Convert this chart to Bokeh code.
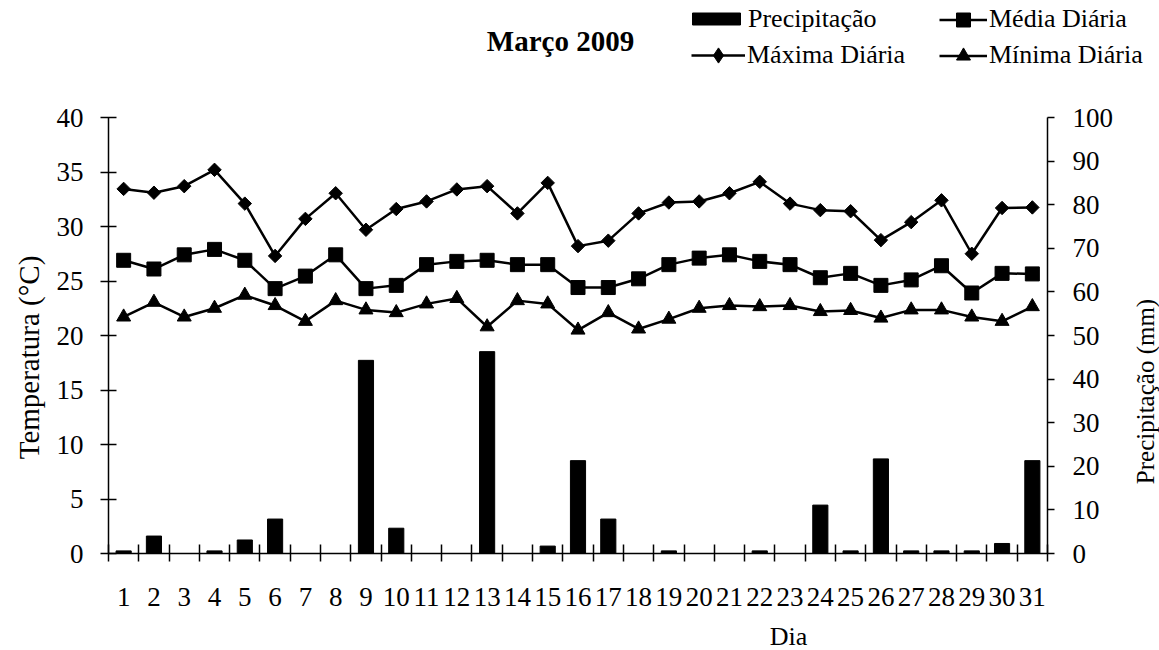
from math import pi
import numpy as np
from bokeh.plotting import figure
from bokeh.models import (Range1d, LinearAxis, FixedTicker, Legend, LegendItem, Label)
from bokeh.embed import file_html
from bokeh.resources import INLINE

dias = list(range(1, 32))
precipitacao = [0.6, 4.0, 0, 0.6, 3.1, 7.9, 0, 0, 44.3, 5.8, 0, 0, 46.3, 0, 1.7, 21.3,
                7.9, 0, 0.6, 0, 0, 0.6, 0, 11.1, 0.6, 21.7, 0.6, 0.6, 0.6, 2.3, 21.3]
maxima = [33.45, 33.1, 33.7, 35.2, 32.1, 27.3, 30.7, 33.05, 29.7, 31.6, 32.3, 33.4, 33.7,
          31.2, 34.0, 28.2, 28.7, 31.2, 32.2, 32.3, 33.05, 34.1, 32.1, 31.5, 31.4, 28.75,
          30.4, 32.4, 27.5, 31.7, 31.75]
media = [26.9, 26.1, 27.4, 27.9, 26.9, 24.3, 25.45, 27.4, 24.3, 24.6, 26.5, 26.8, 26.9,
         26.5, 26.5, 24.4, 24.4, 25.2, 26.5, 27.1, 27.4, 26.8, 26.5, 25.3, 25.7, 24.6,
         25.1, 26.4, 23.9, 25.7, 25.65]
minima = [21.7, 23.05, 21.7, 22.5, 23.7, 22.75, 21.3, 23.2, 22.35, 22.1, 22.9, 23.4, 20.8,
          23.2, 22.9, 20.5, 22.1, 20.6, 21.5, 22.5, 22.75, 22.65, 22.75, 22.2, 22.3, 21.6,
          22.35, 22.35, 21.7, 21.3, 22.65]
temp_ticks = [0, 5, 10, 15, 20, 25, 30, 35, 40]
precip_ticks = [0, 10, 20, 30, 40, 50, 60, 70, 80, 90, 100]
dia_labels = [str(d) for d in dias]

FONT = "Liberation Serif"
TICK_SIZE = "27px"

W, H = 1159, 650
# plot area in pixels (left, right, top, bottom)
PL, PR, PT, PB = 108, 1047, 117, 553
X0, X1 = dias[0] - 0.5, dias[-1] + 0.5
T0, T1 = temp_ticks[0], temp_ticks[-1]
P0, P1 = precip_ticks[0], precip_ticks[-1]
kx = (X1 - X0) / (PR - PL)
ky = (T1 - T0) / (PB - PT)
x_range = Range1d(X0 - PL * kx, X1 + (W - PR) * kx)
y_range = Range1d(T0 - (H - PB) * ky, T1 + PT * ky)
ratio = (P1 - P0) / (T1 - T0)
prec_range = Range1d(y_range.start * ratio, y_range.end * ratio)

def xd(px):
    return X0 + (px - PL) * kx

def yd(py):
    return T0 + (PB - py) * ky

p = figure(width=W, height=H, output_backend="svg", toolbar_location=None,
           x_range=x_range, y_range=y_range,
           x_axis_location=None, y_axis_location=None,
           min_border=0, min_border_left=0, min_border_right=0,
           min_border_top=0, min_border_bottom=0)
p.extra_y_ranges = {"prec": prec_range}
p.grid.visible = False
p.outline_line_color = None
p.background_fill_color = "white"
p.border_fill_color = "white"

boundaries = [d - 0.5 for d in dias] + [dias[-1] + 0.5]
xaxis = LinearAxis(ticker=FixedTicker(ticks=dias, minor_ticks=boundaries),
                   fixed_location=T0, bounds=(X0, X1),
                   major_label_overrides={d: s for d, s in zip(dias, dia_labels)},
                   major_tick_in=0, major_tick_out=0, major_tick_line_color=None,
                   minor_tick_in=9, minor_tick_out=8, minor_tick_line_color="black",
                   minor_tick_line_width=1.5, axis_line_width=1.5, axis_line_color="black",
                   major_label_standoff=26, major_label_text_font=FONT,
                   major_label_text_font_size=TICK_SIZE, major_label_text_color="black")
p.add_layout(xaxis, "below")

yaxis = LinearAxis(ticker=FixedTicker(ticks=temp_ticks, minor_ticks=[]),
                   fixed_location=X0, bounds=(T0, T1),
                   major_tick_in=8, major_tick_out=8, major_tick_line_width=1.5,
                   minor_tick_line_color=None, axis_line_width=1.5,
                   major_label_standoff=17, major_label_text_font=FONT,
                   major_label_text_font_size=TICK_SIZE, major_label_text_color="black")
p.add_layout(yaxis, "left")

yaxis2 = LinearAxis(y_range_name="prec", fixed_location=X1, bounds=(P0, P1),
                    ticker=FixedTicker(ticks=precip_ticks, minor_ticks=[]),
                    major_tick_in=0, major_tick_out=7, major_tick_line_width=1.5,
                    minor_tick_line_color=None, axis_line_width=1.5,
                    major_label_standoff=18, major_label_text_font=FONT,
                    major_label_text_font_size=TICK_SIZE, major_label_text_color="black")
p.add_layout(yaxis2, "right")

bars = p.vbar(x=dias, top=precipitacao, width=0.5, bottom=0, y_range_name="prec",
              fill_color="black", line_color="black")

LW = 2.5
l_max = p.line(dias, maxima, line_width=LW, line_color="black")
s_max = p.scatter(dias, maxima, marker="square", angle=pi / 4, size=9.5,
                  fill_color="black", line_color="black")
l_med = p.line(dias, media, line_width=LW, line_color="black")
s_med = p.scatter(dias, media, marker="square", size=14,
                  fill_color="black", line_color="black")
l_min = p.line(dias, minima, line_width=LW, line_color="black")
s_min = p.scatter(dias, minima, marker="triangle", size=14,
                  fill_color="black", line_color="black")
# legend-only swatch for the diamond marker (legend ignores marker angle);
# a single NaN point draws nothing in the plot
s_max_key = p.scatter(x=np.array([np.nan]), y=np.array([np.nan]), marker="diamond",
                      fill_color="black", line_color="black")

TEXT_H = 29

def add_legend(label, renderers, left_px, glyph_w, glyph_h, yc, standoff=2):
    item_h = max(glyph_h, TEXT_H)
    bottom_px = yc + item_h / 2
    leg = Legend(items=[LegendItem(label=label, renderers=renderers, index=0)],
                 location=(left_px, H - bottom_px), orientation="vertical",
                 border_line_color=None, background_fill_alpha=0,
                 padding=0, margin=0, spacing=0, glyph_width=glyph_w, glyph_height=glyph_h,
                 label_standoff=standoff, label_text_font=FONT, label_text_font_size="26px",
                 label_text_color="black")
    p.add_layout(leg, "center")

add_legend("Precipitação", [bars], 686, 60, 15, 19)
add_legend("Média Diária", [l_med, s_med], 939, 48, 35, 19)
add_legend("Máxima Diária", [l_max, s_max_key], 691, 54, 38, 55)
add_legend("Mínima Diária", [l_min, s_min], 939, 48, 35, 55)

title = Label(x=xd(560), y=yd(40), text="Março 2009", text_font=FONT, text_font_size="29px",
              text_font_style="bold", text_align="center", text_baseline="middle",
              text_color="black")
ylab = Label(x=xd(28), y=yd(357), text="Temperatura (°C)", angle=pi / 2, text_font=FONT,
             text_font_size="29px", text_align="center", text_baseline="middle",
             text_color="black")
ylab2 = Label(x=xd(1145), y=yd(391), text="Precipitação (mm)", angle=pi / 2, text_font=FONT,
              text_font_size="25px", text_align="center", text_baseline="middle",
              text_color="black")
xlab = Label(x=xd(788), y=yd(636), text="Dia", text_font=FONT, text_font_size="26px",
             text_align="center", text_baseline="middle", text_color="black")
for lab in (title, ylab, ylab2, xlab):
    p.add_layout(lab)

open("out.html", "w").write(file_html(p, INLINE))
